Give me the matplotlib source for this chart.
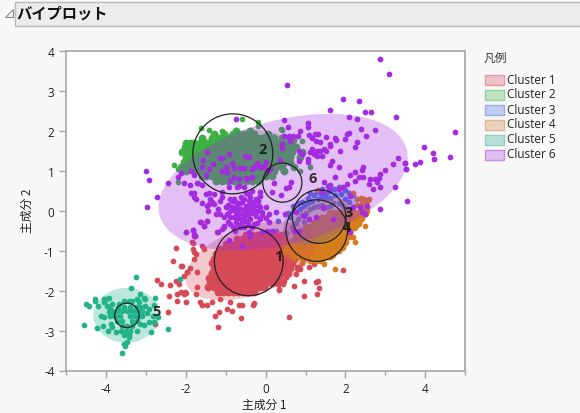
import matplotlib
matplotlib.use("Agg")
import matplotlib.pyplot as plt
from matplotlib.patches import Ellipse, Circle, Rectangle, Polygon

plt.rcParams['font.family'] = ['Noto Sans CJK JP', 'DejaVu Sans']

# ---------- Data ----------

cluster_names = ["Cluster 1", "Cluster 2", "Cluster 3", "Cluster 4", "Cluster 5", "Cluster 6"]
point_colors = ["#d64a58", "#3cb044", "#4a6fdc", "#d67d1e", "#22b38a", "#a32be0"]
swatch_colors = ["#edc3c8", "#c0e3c2", "#c1cdef", "#ebd2bd", "#badfd6", "#e0bdf3"]
swatch_edges = ["#e09aa3", "#8fd096", "#98aee6", "#e0b48d", "#8dd3bd", "#c88cec"]

# ellipse: centre x, centre y, width, height, angle
ellipses = [(-0.38, -1.26, 3.4, 1.7, 20), (-0.7, 1.42, 2.7, 1.15, 8), (1.35, -0.15, 2.0, 1.2, 30),
            (1.3, -0.5, 2.1, 1.3, 35), (-3.48, -2.62, 1.66, 1.37, 0), (0.44, 0.71, 6.4, 3.1, 15)]
# biplot circles: centre x, centre y, radius
circles = [(-0.42, -1.27, 0.86), (-0.82, 1.42, 1.0), (1.34, -0.15, 0.67),
           (1.28, -0.5, 0.77), (-3.47, -2.62, 0.305), (0.42, 0.70, 0.49)]
label_pos = [(0.35, -1.12), (-0.05, 1.56), (2.09, -0.01), (2.06, -0.38), (-2.71, -2.48), (1.19, 0.84)]

# dense middle of cluster 1, one row per y value
c1_rows = [
    (-0.6, [-0.5, -0.35, -0.2, -0.05, 0.1, 0.25, 0.4]),
    (-0.72, [-0.72, -0.6, -0.45, -0.33, -0.2, -0.07, 0.05, 0.18, 0.3, 0.45]),
    (-0.84, [-1.0, -0.88, -0.75, -0.63, -0.5, -0.38, -0.25, -0.12, 0.0, 0.13, 0.25, 0.38, 0.5, 0.6]),
    (-0.96, [-1.15, -1.02, -0.9, -0.77, -0.65, -0.52, -0.4, -0.27, -0.15, -0.02, 0.1, 0.23, 0.35, 0.5, 0.62, 0.75]),
    (-1.08, [-1.25, -1.12, -1.0, -0.87, -0.75, -0.62, -0.5, -0.37, -0.25, -0.12, 0.0, 0.13, 0.25, 0.38, 0.5, 0.62, 0.75, 0.9]),
    (-1.2, [-1.3, -1.17, -1.05, -0.92, -0.8, -0.67, -0.55, -0.42, -0.3, -0.17, -0.05, 0.08, 0.2, 0.33, 0.45, 0.57, 0.72]),
    (-1.32, [-1.35, -1.22, -1.1, -0.97, -0.85, -0.72, -0.6, -0.47, -0.35, -0.22, -0.1, 0.03, 0.15, 0.28, 0.4, 0.53, 0.66]),
    (-1.44, [-1.3, -1.17, -1.05, -0.92, -0.8, -0.67, -0.55, -0.42, -0.3, -0.17, -0.05, 0.08, 0.2, 0.33, 0.45, 0.6, 0.8]),
    (-1.56, [-1.35, -1.22, -1.1, -0.97, -0.85, -0.72, -0.6, -0.47, -0.35, -0.22, -0.1, 0.03, 0.15, 0.28, 0.4, 0.55]),
    (-1.68, [-1.42, -1.3, -1.17, -1.05, -0.92, -0.8, -0.67, -0.55, -0.42, -0.3, -0.17, -0.05, 0.08, 0.2, 0.33]),
    (-1.8, [-1.38, -1.25, -1.12, -1.0, -0.87, -0.75, -0.62, -0.5, -0.37, -0.25, -0.12, 0.0, 0.15, 0.3]),
    (-1.92, [-1.45, -1.3, -1.17, -1.05, -0.92, -0.8, -0.67, -0.55, -0.42, -0.3, -0.17, -0.05]),
    (-2.04, [-1.2, -1.07, -0.95, -0.82, -0.7, -0.57, -0.45, -0.3]),
]
c1_scatter = [(-2.24, -0.93), (-2.31, -1.25), (-2.11, -1.39), (-2.72, -1.74), (-2.61, -1.83), (-2.38, -1.86),
              (-2.24, -1.75), (-2.16, -1.84), (-2.41, -2.14), (-2.21, -2.09), (-2.21, -2.27), (-2.44, -2.53),
              (-1.98, -2.29), (-2.12, -2.04), (-2.05, -2.09), (-2.77, -2.84), (-1.2, -2.9), (-1.26, -2.63),
              (-1.17, -2.53), (-0.96, -2.46), (-0.85, -2.51), (-0.62, -2.68), (-0.3, -2.32), (0.59, -2.65),
              (0.33, -1.96), (0.44, -1.84), (0.5, -1.67), (-0.32, -2.36), (-2.05, -1.64), (-1.96, -1.54),
              (-1.88, -1.44), (-1.78, -1.04), (-1.83, -0.79), (-1.82, -0.96), (-1.55, -0.96), (-1.71, -1.92),
              (-1.75, -2.09), (-1.63, -2.29), (-1.59, -2.36), (-1.47, -2.36), (-1.34, -2.29), (-1.13, -2.21),
              (-0.88, -2.29), (-0.67, -2.36), (-0.59, -2.36), (1.93, -1.49), (0.95, -1.77), (0.7, -1.88),
              (1.25, -1.79), (1.3, -1.75), (1.33, -1.94), (1.29, -2.09), (0.97, -2.13), (0.33, -1.98),
              (0.45, -1.75), (0.75, -1.59), (0.87, -1.46), (1.08, -1.42), (1.2, -1.33), (-1.61, -0.28),
              (-1.46, -0.27), (-1.55, -0.39), (-1.81, -0.48), (-1.8, -0.63), (-1.76, -0.64), (-2.0, -0.53),
              (-1.82, -0.81), (-1.59, -0.88), (-1.75, -1.09), (-1.8, -1.21), (-1.71, -1.54), (-2.1, -1.38),
              (-1.96, -1.54), (-2.01, -2.04), (-2.0, -2.07), (-1.21, -0.54), (-1.05, -0.42)]

# dense band of cluster 2, one row per y value
c2_rows = [
    (2.0, [-0.75, -0.4]),
    (1.92, [-1.28, -1.05, -0.82, -0.7, -0.55, -0.42, -0.28, 0.05]),
    (1.82, [-1.6, -1.35, -1.2, -1.07, -0.95, -0.82, -0.7, -0.57, -0.45, -0.32, -0.2, -0.07, 0.06, 0.2, 0.4]),
    (1.7, [-1.98, -1.9, -1.8, -1.65, -1.5, -1.38, -1.25, -1.12, -1.0, -0.87, -0.75, -0.62, -0.5, -0.37, -0.25, -0.12, 0.0, 0.13, 0.25, 0.38, 0.55, 0.65]),
    (1.58, [-2.02, -1.9, -1.78, -1.65, -1.53, -1.4, -1.28, -1.15, -1.03, -0.9, -0.78, -0.65, -0.53, -0.4, -0.28, -0.15, -0.03, 0.1, 0.22, 0.35, 0.47, 0.6, 0.75]),
    (1.46, [-2.08, -1.95, -1.83, -1.7, -1.58, -1.45, -1.33, -1.2, -1.08, -0.95, -0.83, -0.7, -0.58, -0.45, -0.33, -0.2, -0.08, 0.05, 0.17, 0.3, 0.42, 0.55, 0.67, 0.9]),
    (1.34, [-2.0, -1.88, -1.75, -1.63, -1.5, -1.38, -1.25, -1.13, -1.0, -0.88, -0.75, -0.63, -0.5, -0.38, -0.25, -0.13, 0.0, 0.12, 0.25, 0.37, 0.5, 0.62, 0.85]),
    (1.22, [-2.05, -1.93, -1.8, -1.68, -1.55, -1.43, -1.3, -1.18, -1.05, -0.93, -0.8, -0.68, -0.55, -0.43, -0.3, -0.18, -0.05, 0.07, 0.2, 0.32, 0.45, 0.6]),
    (1.1, [-2.12, -1.98, -1.85, -1.73, -1.6, -1.48, -1.35, -1.23, -1.1, -0.98, -0.85, -0.73, -0.6, -0.48, -0.35, -0.23, -0.1, 0.02, 0.15, 0.27, 0.4, 0.7]),
    (0.98, [-2.0, -1.8, -1.65, -1.53, -1.4, -1.28, -1.15, -1.03, -0.9, -0.78, -0.65, -0.53, -0.4, -0.28, -0.15, -0.03, 0.1, 0.22, 0.45]),
    (0.86, [-1.6, -1.48, -1.35, -1.23, -1.1, -0.98, -0.85, -0.73, -0.6, -0.48, -0.35, -0.23, -0.1, 0.02, 0.15]),
    (0.74, [-1.25, -1.1, -0.95, -0.8, -0.65, -0.5, -0.35, -0.2]),
]
c2_scatter = [(-1.62, 2.06), (-1.42, 2.02), (-1.1, 2.0), (-0.58, 2.28), (-0.19, 2.21), (-2.28, 1.14), (-2.2, 1.05),
              (-2.2, 0.72), (-1.7, 0.7), (0.38, 2.03), (0.4, 2.02), (0.72, 1.77), (0.88, 1.38), (0.85, 1.0), (0.9, 1.75), (1.1, 1.1), (-0.19, 2.12)]

c3_points = [(0.3, -0.25), (0.55, -0.05), (0.62, -0.15), (0.72, -0.02), (0.85, 0.05), (0.95, 0.12), (1.05, 0.18),
             (1.15, 0.25), (1.3, 0.3), (1.4, 0.35), (1.5, 0.28), (1.62, 0.32), (1.75, 0.38), (1.9, 0.42), (2.0, 0.3),
             (2.1, 0.22), (2.2, 0.1), (0.9, -0.12), (1.0, -0.05), (1.1, 0.05), (1.2, 0.1), (1.3, 0.12), (1.4, 0.15),
             (1.5, 0.1), (1.6, 0.12), (1.7, 0.18), (1.85, 0.2), (1.95, 0.12), (2.05, 0.05), (0.75, -0.3), (0.65, -0.4),
             (0.5, -0.55), (0.45, -0.72), (0.2, -0.9), (0.0, -1.0), (-0.1, -0.95), (0.8, -0.2), (0.95, -0.28),
             (-0.2, -0.72), (-0.15, -0.6), (0.1, -0.55), (0.25, -0.5), (2.35, -0.32), (2.05, -0.65), (1.35, 0.45), (1.2, 0.38),
             (1.5, 0.42), (1.62, 0.5), (1.72, 0.55), (1.85, 0.6), (1.98, 0.52), (2.08, 0.45), (2.2, 0.38), (2.28, 0.28),
             (1.05, 0.32), (0.92, 0.22), (0.8, 0.18), (0.68, 0.12), (1.12, 0.45), (1.28, 0.5), (1.42, 0.55), (1.55, 0.62)]

# dense middle of cluster 4, one row per y value
c4_rows = [
    (-0.06, [1.6, 1.72, 1.85, 1.97, 2.1, 2.22, 2.35, 2.48]),
    (-0.18, [1.4, 1.52, 1.65, 1.77, 1.9, 2.02, 2.15, 2.27, 2.4]),
    (-0.3, [1.2, 1.32, 1.45, 1.57, 1.7, 1.82, 1.95, 2.07, 2.2, 2.32]),
    (-0.42, [1.0, 1.12, 1.25, 1.37, 1.5, 1.62, 1.75, 1.87, 2.0, 2.12, 2.22]),
    (-0.54, [0.85, 0.97, 1.1, 1.22, 1.35, 1.47, 1.6, 1.72, 1.85, 1.97, 2.1]),
    (-0.66, [0.75, 0.87, 1.0, 1.12, 1.25, 1.37, 1.5, 1.62, 1.75, 1.87, 2.0]),
    (-0.78, [0.65, 0.77, 0.9, 1.02, 1.15, 1.27, 1.4, 1.52, 1.65, 1.77, 1.9, 2.0]),
    (-0.9, [0.55, 0.67, 0.8, 0.92, 1.05, 1.17, 1.3, 1.42, 1.55, 1.67, 1.8, 1.92]),
    (-1.02, [0.5, 0.62, 0.75, 0.87, 1.0, 1.12, 1.25, 1.37, 1.5, 1.62, 1.75]),
    (-1.14, [0.7, 0.85, 0.97, 1.1, 1.22, 1.35, 1.47, 1.6]),
]
c4_scatter = [(0.7, -1.15), (0.95, -1.2), (1.1, -1.25), (1.25, -1.27), (1.42, -1.22), (1.55, -1.15), (1.7, -1.1), (1.85, -1.02),
              (2.12, -0.65), (2.28, -0.35), (2.4, -0.2), (2.5, -0.05), (2.3, 0.15), (2.45, 0.05), (2.55, 0.0), (1.35, -1.25),
              (0.9, -1.3), (1.75, -1.45), (1.45, -1.33), (2.5, -0.38), (2.25, -0.78), (2.18, -0.65), (2.55, 0.1),
              (2.3, 0.3), (2.38, 0.32), (2.46, 0.28), (2.54, 0.25), (2.6, 0.3), (2.42, 0.2), (2.5, 0.16), (2.2, 0.45), (1.3, 0.52)]

# middle of cluster 5, one row per y value
c5_rows = [
    (-2.4, [-3.7, -3.55, -3.4, -3.25]),
    (-2.52, [-3.85, -3.72, -3.6, -3.47, -3.35, -3.22, -3.1]),
    (-2.64, [-3.9, -3.77, -3.65, -3.4, -3.27, -3.15]),
    (-2.76, [-3.72, -3.6, -3.35, -3.22]),
    (-2.88, [-3.6, -3.47, -3.35]),
    (-3.0, [-3.62, -3.5, -3.38]),
    (-3.12, [-3.55, -3.42]),
]
c5_scatter = [(-3.23, -1.65), (-3.36, -1.94), (-4.49, -2.33), (-4.41, -2.39), (-4.27, -2.21), (-4.26, -2.26), (-4.18, -2.39),
              (-4.53, -2.87), (-4.22, -2.94), (-4.06, -2.88), (-3.95, -3.0), (-3.86, -2.84), (-3.85, -2.9), (-4.11, -2.63),
              (-4.05, -2.21), (-4.0, -2.21), (-3.92, -2.19), (-4.03, -2.29), (-3.96, -2.38), (-3.88, -2.46), (-3.92, -2.54),
              (-4.03, -2.67), (-3.8, -2.63), (-3.67, -2.34), (-3.53, -2.25), (-3.42, -2.25), (-3.34, -2.25), (-3.21, -2.21),
              (-3.05, -2.19), (-3.01, -2.21), (-3.15, -2.08), (-2.76, -2.19), (-2.78, -2.36), (-2.92, -2.46), (-2.96, -2.56),
              (-3.09, -2.63), (-2.81, -2.63), (-2.69, -2.67), (-2.78, -2.79), (-2.92, -2.79), (-3.05, -2.86), (-3.13, -2.84),
              (-3.21, -3.02), (-2.86, -3.03), (-2.44, -2.95), (-3.6, -3.56), (-3.52, -3.38), (-3.46, -3.29), (-3.53, -3.34),
              (-3.42, -3.17), (-3.75, -3.04), (-3.25, -2.5), (-3.13, -2.42), (-3.01, -2.38), (-3.84, -2.34), (-3.17, -2.29), (-2.13, -1.72)]

c6_points = [(-0.74, 2.29), (1.6, 2.52), (2.34, 2.75), (2.08, 2.35), (2.3, 2.29), (2.48, 2.46), (2.65, 2.46), (3.27, 2.35),
             (2.38, 2.03), (2.73, 2.02), (2.52, 1.87), (0.47, 2.26), (0.56, 2.08), (1.07, 2.19), (1.07, 2.08), (0.45, 1.87),
             (0.58, 1.86), (0.69, 1.86), (0.8, 1.87), (0.85, 1.98), (1.23, 1.91), (1.3, 1.91), (1.08, 1.89), (1.16, 1.81),
             (1.25, 1.75), (1.37, 1.71), (1.52, 1.85), (1.75, 1.81), (1.77, 1.77), (2.04, 1.91), (2.08, 1.93), (1.99, 1.79),
             (2.29, 1.71), (2.25, 1.58), (1.62, 1.67), (1.6, 1.62), (1.87, 1.5), (1.45, 1.54), (1.37, 1.5), (1.5, 1.5),
             (1.29, 1.5), (1.16, 1.54), (1.12, 1.46), (1.2, 1.41), (1.29, 1.37), (1.41, 1.36), (0.83, 1.5), (0.91, 1.41),
             (0.83, 1.25), (1.06, 1.29), (1.06, 1.22), (0.4, 1.66), (0.4, 1.56), (0.62, 1.75), (0.58, 1.81), (0.35, 1.27),
             (1.66, 1.25), (1.62, 1.14), (1.83, 1.09), (3.31, 1.31), (3.2, 1.16), (3.48, 1.19), (3.51, 1.04), (2.98, 1.02),
             (2.83, 0.81), (2.87, 0.91), (2.75, 0.79), (2.45, 1.08), (2.41, 1.02), (2.25, 0.97), (2.12, 0.89), (2.33, 0.83),
             (2.45, 0.83), (2.25, 0.75), (2.62, 0.79), (2.58, 0.67), (2.79, 0.71), (2.87, 0.58), (2.7, 0.54), (3.25, 0.6),
             (3.54, 0.25), (2.87, 0.04), (2.54, 0.12), (2.37, 0.08), (2.41, -0.04), (2.5, -0.08), (2.2, 0.08), (1.45, 0.72),
             (1.75, 0.83), (1.62, 0.64), (1.58, 0.54), (1.41, 0.46), (2.04, 0.66), (1.95, 0.58), (1.83, 0.54), (2.12, 0.37),
             (4.75, 1.97), (3.97, 1.58), (4.2, 1.43), (4.22, 1.28), (4.62, 1.34), (3.86, 1.21), (3.73, 1.17), (3.48, 1.18),
             (3.51, 1.04), (2.86, 3.79), (3.1, 3.41), (0.54, 3.15), (1.95, 2.78),
             (0.03, 1.0), (0.12, 1.04), (-0.03, 1.12), (-0.15, 1.08), (0.58, 0.58), (0.52, 0.56), (0.64, 0.71), (0.16, 0.46),
             (0.39, 0.39), (0.2, 0.7), (-0.13, 0.46), (-0.13, 0.37), (-0.34, 0.5), (-0.42, 0.42), (-0.55, 0.58), (-0.46, 0.79),
             (-0.5, 0.81), (-0.8, 0.83), (-0.88, 0.75), (-0.67, 0.62), (-0.71, 0.58), (-0.92, 0.58), (-1.09, 0.46), (-1.09, 0.33),
             (-0.88, 0.29), (-0.84, 0.25), (-1.13, 0.25), (-1.3, 0.16), (-1.46, 0.12), (-1.42, 0.16), (-1.34, 0.21), (-1.5, 0.41),
             (-1.42, 0.43), (-1.86, 0.44), (-1.78, 0.33), (-1.74, 0.29), (-2.03, 0.68), (-1.9, 0.64), (-1.8, 0.89), (-1.46, 1.47),
             (-1.57, 1.27), (-1.59, 1.08), (-1.42, 1.05), (-1.32, 1.16), (-1.15, 1.31), (-1.09, 1.31), (-0.92, 1.41), (-0.84, 1.18),
             (-1.0, 1.08), (-1.09, 1.0), (-0.96, 0.97), (-0.8, 1.06), (-0.63, 1.06), (-0.55, 1.06), (-0.34, 1.04), (-0.21, 1.18),
             (-0.05, 1.08), (0.02, 1.21), (-0.3, 1.08), (-0.51, 1.37), (-0.42, 1.33), (-0.34, 0.83), (-0.67, 0.79),
             (-1.0, 0.08), (-0.84, 0.08), (-0.71, 0.12), (-0.59, 0.21), (-0.5, 0.12), (-0.38, 0.12), (-0.42, 0.25), (-0.38, 0.33),
             (-0.46, -0.04), (-0.55, -0.08), (-0.75, -0.12), (-0.88, -0.17), (-0.96, -0.08), (-1.05, -0.17), (-1.13, -0.08), (-1.23, -0.08),
             (-0.88, -0.34), (-0.75, -0.29), (-0.59, -0.29), (-0.5, -0.25), (-0.38, -0.21), (-0.25, -0.13), (-0.08, -0.04), (0.0, 0.08),
             (0.08, -0.08), (-0.13, -0.21), (0.08, -0.29), (-1.05, -0.38), (-1.09, -0.46), (-1.2, -0.53), (-0.4, -0.63), (-0.42, -0.54),
             (-0.34, -0.42), (-0.76, -0.5), (-0.63, -0.42), (-0.09, -0.54), (0.04, -0.5), (0.16, -0.5), (-0.59, -0.88), (-0.92, -0.73),
             (0.75, -0.04), (0.95, -0.13), (0.49, -0.08), (0.27, -0.04), (1.43, 0.06), (1.25, -0.17), (1.08, -0.21), (1.69, -0.21),
             (2.12, -0.54), (0.83, -0.5), (0.7, -0.5), (-2.0, -0.53), (-1.8, -0.58), (-1.76, -0.64), (-1.63, -0.28), (-1.46, -0.27),
             (-1.55, -0.39), (-1.81, -0.48), (-0.8, -0.16), (-0.7, -0.02), (-0.62, 0.05), (-0.8, 0.3), (-0.62, 0.35), (-0.5, 0.45),
             (-0.95, 0.15), (-0.3, 0.0), (-0.2, 0.15), (-0.25, 0.28), (-1.2, 0.05), (-0.55, -0.16), (-0.3, -0.33), (-0.7, -0.18),
             (-2.12, 0.93), (-3.0, 0.98), (-2.92, 0.76), (-2.45, 0.68), (-2.2, 0.84), (-2.72, 0.33), (-2.96, 0.08), (-1.87, 0.98),
             (-1.72, 0.68), (-1.6, 0.64), (-1.5, 0.9), (-1.78, 0.45), (-1.6, 0.2), (-1.45, 0.0), (-1.4, 0.3), (-1.3, 0.42),
             (-0.9, 0.0), (-0.78, 0.02), (-0.66, -0.08), (-0.6, -0.2), (-0.45, -0.12), (-0.35, -0.05), (-0.22, -0.02), (-0.15, 0.1),
             (-0.28, 0.12), (-0.4, 0.02), (-0.52, 0.02), (-0.65, 0.2), (-0.75, 0.22), (-0.55, 0.3), (-0.32, 0.22), (-0.18, 0.25),
             (-0.95, -0.28), (-0.82, -0.42), (-0.68, -0.36), (-0.55, -0.4), (-0.45, -0.33), (-0.22, -0.3), (-0.1, -0.12), (0.02, -0.18)]

x_ticks = [-4, -2, 0, 2, 4]
y_ticks = [-4, -3, -2, -1, 0, 1, 2, 3, 4]
x_minor = [-5, -3, -1, 1, 3, 5]


def flatten(rows):
    pts = []
    for y, xs in rows:
        pts += [(x, y) for x in xs]
    return pts


# drawn in this order: blue first, orange over it
scatter_sets = [(2, c3_points), (0, c1_scatter), (1, c2_scatter), (3, c4_scatter), (4, c5_scatter)]
dense_sets = [(0, c1_rows, 32), (1, c2_rows, 32), (3, c4_rows, 32), (4, c5_rows, 17)]

# ---------- Figure ----------

W, H = 580, 414
fig = plt.figure(figsize=(5.8, 4.14), dpi=100, facecolor="#f8f8f8")

fig.add_artist(Rectangle((14.5 / W, 1 - 26.5 / H), 570 / W, 24 / H, transform=fig.transFigure,
                         facecolor="#ececec", edgecolor="#b8b8b8", linewidth=1))
fig.add_artist(Polygon([(4.5 / W, 1 - 17.5 / H), (12.5 / W, 1 - 17.5 / H), (12.5 / W, 1 - 9.5 / H)],
                       transform=fig.transFigure, facecolor="#f4f4f4", edgecolor="#8a8a8a", linewidth=0.8))
fig.text(16 / W, 1 - 14 / H, "バイプロット", fontsize=11, fontweight="bold", va="center", color="#111111")

ax = fig.add_axes([65.7 / W, 1 - 371.5 / H, 399.7 / W, 319.8 / H])
ax.set_xlim(-5, 5)
ax.set_ylim(-4, 4)
ax.set_facecolor("white")

# points of 1-5 go under the ellipses, purple ones stay on top
for i, pts in scatter_sets:
    ax.scatter([p[0] for p in pts], [p[1] for p in pts], s=17, color=point_colors[i], linewidths=0, zorder=2)
for i, rows, size in dense_sets:
    pts = flatten(rows)
    ax.scatter([p[0] for p in pts], [p[1] for p in pts], s=size, color=point_colors[i], linewidths=0, zorder=2)

for i, (cx, cy, w, h, ang) in enumerate(ellipses):
    ax.add_patch(Ellipse((cx, cy), w, h, angle=ang, facecolor=point_colors[i], edgecolor="none", alpha=0.3, zorder=3))

ax.scatter([p[0] for p in c6_points], [p[1] for p in c6_points], s=17, color=point_colors[5], linewidths=0, zorder=4)

for cx, cy, r in circles:
    ax.add_patch(Circle((cx, cy), r, fill=False, edgecolor="#222222", linewidth=0.9, zorder=5))
for i, (lx, ly) in enumerate(label_pos):
    ax.text(lx - 0.02, ly - 0.02, str(i + 1), fontsize=10.5, fontweight="bold", color="#111111", alpha=0.85,
            ha="center", va="center", zorder=6, family=["Open Sans", "DejaVu Sans"])

for side in ax.spines.values():
    side.set_color("#a6a6a6")
    side.set_linewidth(1.2)

ax.set_xticks(x_ticks)
ax.set_xticks(x_minor, minor=True)
ax.set_yticks(y_ticks)
ax.tick_params(axis="both", which="major", length=5, width=1, color="#a6a6a6", labelsize=8.5, labelcolor="#222222", pad=3)
ax.tick_params(axis="x", which="minor", length=3, width=1, color="#a6a6a6")
ax.set_xticklabels([str(v) for v in x_ticks], family=["Open Sans", "DejaVu Sans"])
ax.set_yticklabels([str(v) for v in y_ticks], family=["Open Sans", "DejaVu Sans"])

fig.text(264 / W, 1 - 405 / H, "主成分 1", fontsize=8.5, ha="center", va="center", color="#222222")
fig.text(27 / W, 1 - 211 / H, "主成分 2", fontsize=8.5, ha="center", va="center", rotation=90, color="#222222")

# ---------- Legend ----------

fig.text(484 / W, 1 - 58 / H, "凡例", fontsize=8.5, va="center", color="#333333")
for i, name in enumerate(cluster_names):
    top = 75.5 + i * 15
    fig.add_artist(Rectangle((484.5 / W, 1 - (top + 10) / H), 19 / W, 10 / H, transform=fig.transFigure,
                             facecolor=swatch_colors[i], edgecolor=swatch_edges[i], linewidth=1))
    fig.text(507 / W, 1 - (top + 4.5) / H, name, fontsize=8.5, va="center", color="#222222",
             family=["Open Sans", "DejaVu Sans"])

fig.savefig("out.png", dpi=100, facecolor=fig.get_facecolor())
